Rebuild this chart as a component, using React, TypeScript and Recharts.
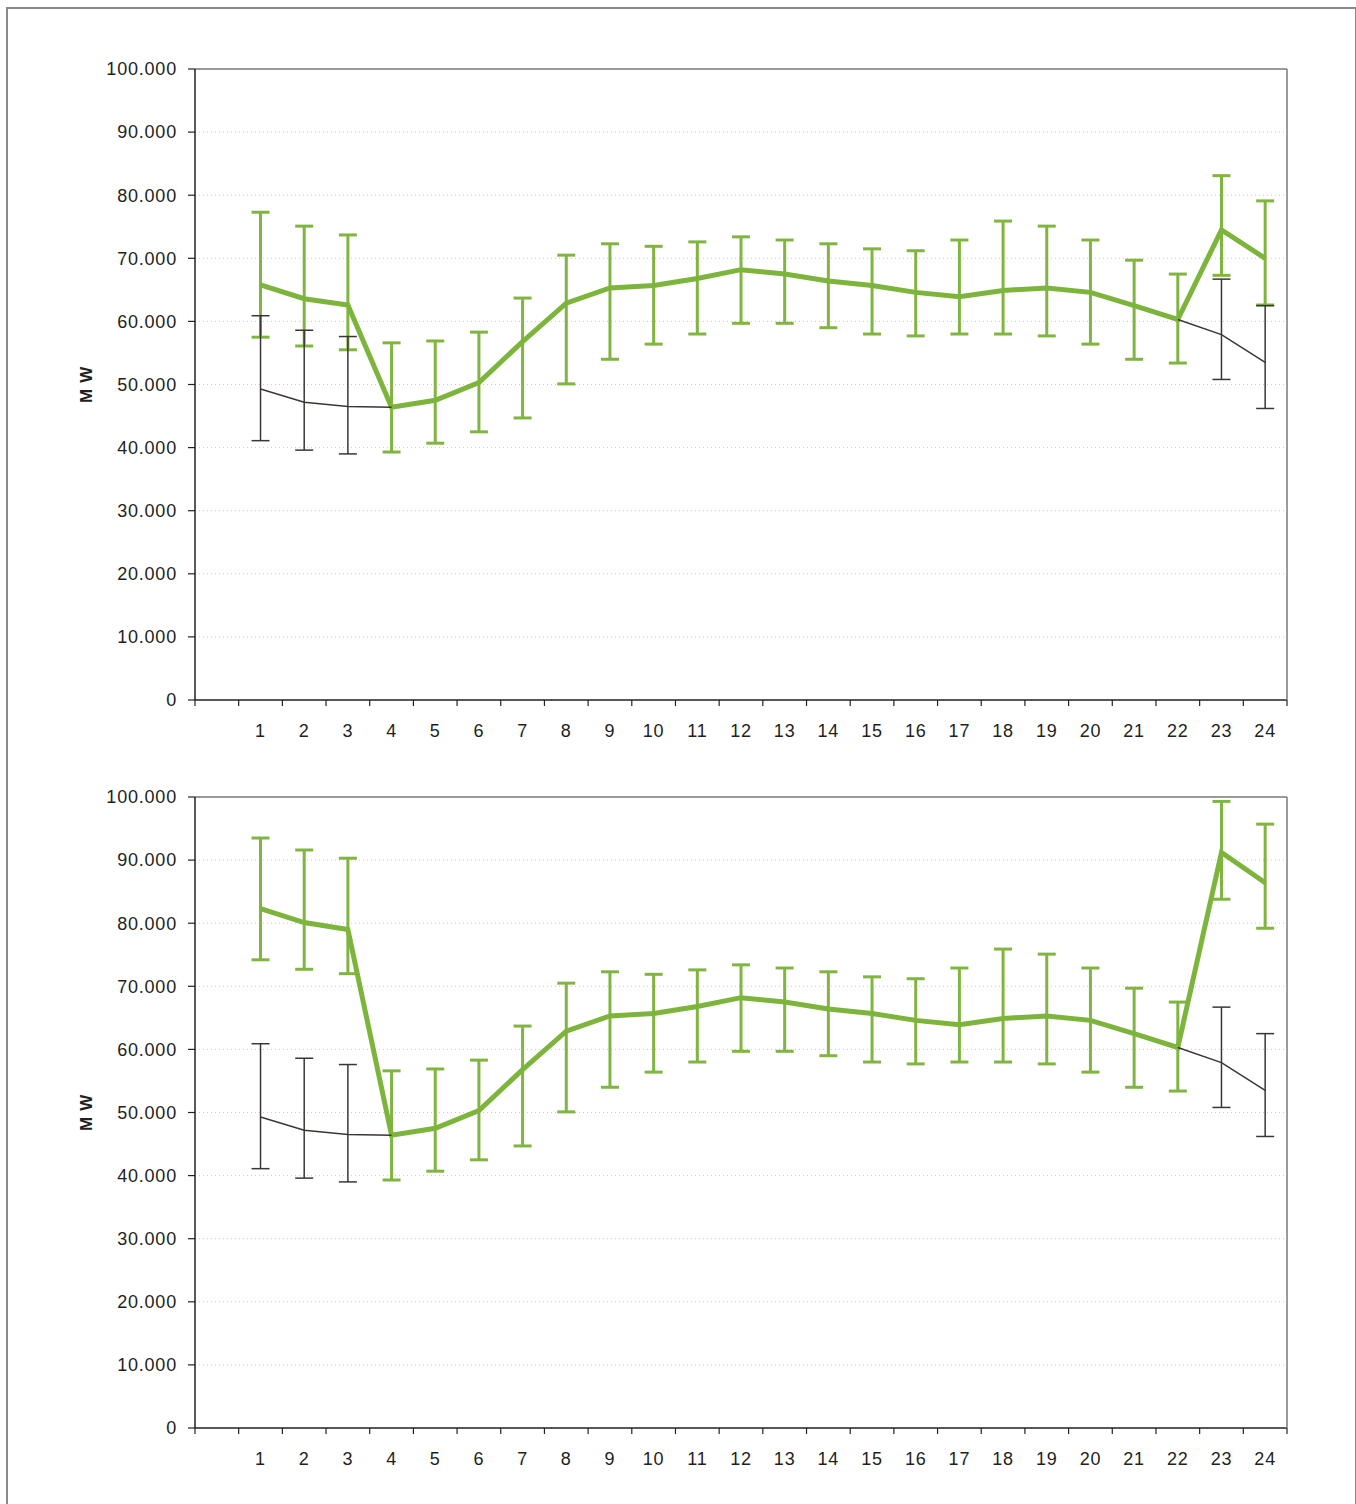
import React from "react";
import {
  LineChart,
  Line,
  XAxis,
  YAxis,
  CartesianGrid,
  ErrorBar,
  ReferenceLine,
} from "recharts";

// ---- DATA ----
const hours: string[] = ["", "1", "2", "3", "4", "5", "6", "7", "8", "9", "10", "11", "12", "13", "14", "15", "16", "17", "18", "19", "20", "21", "22", "23", "24"];

const yTicks: number[] = [0, 10000, 20000, 30000, 40000, 50000, 60000, 70000, 80000, 90000, 100000];

// Top panel – green series
const greenMeanTop: (number | null)[] = [null, 65800, 63600, 62600, 46400, 47500, 50300, 56800, 62900, 65300, 65700, 66800, 68200, 67500, 66400, 65700, 64600, 63900, 64900, 65300, 64600, 62500, 60300, 74500, 70000];
const greenHighTop: (number | null)[] = [null, 77300, 75100, 73700, 56600, 56900, 58300, 63700, 70500, 72300, 71900, 72600, 73400, 72900, 72300, 71500, 71200, 72900, 75900, 75100, 72900, 69700, 67500, 83100, 79100];
const greenLowTop: (number | null)[] = [null, 57500, 56100, 55500, 39300, 40700, 42500, 44700, 50100, 54000, 56400, 58000, 59700, 59700, 59000, 58000, 57700, 58000, 58000, 57700, 56400, 54000, 53400, 67300, 62600];

// Bottom panel – green series
const greenMeanBottom: (number | null)[] = [null, 82300, 80100, 79000, 46400, 47500, 50300, 56800, 62900, 65300, 65700, 66800, 68200, 67500, 66400, 65700, 64600, 63900, 64900, 65300, 64600, 62500, 60300, 91200, 86400];
const greenHighBottom: (number | null)[] = [null, 93500, 91600, 90300, 56600, 56900, 58300, 63700, 70500, 72300, 71900, 72600, 73400, 72900, 72300, 71500, 71200, 72900, 75900, 75100, 72900, 69700, 67500, 99300, 95700];
const greenLowBottom: (number | null)[] = [null, 74200, 72700, 72000, 39300, 40700, 42500, 44700, 50100, 54000, 56400, 58000, 59700, 59700, 59000, 58000, 57700, 58000, 58000, 57700, 56400, 54000, 53400, 83800, 79200];

// Dark reference series (same in both panels; hidden under green in the middle)
const blackMean: (number | null)[] = [null, 49300, 47200, 46500, 46400, null, null, null, null, null, null, null, null, null, null, null, null, null, null, null, null, null, 60300, 57900, 53500];
const blackHigh: (number | null)[] = [null, 60900, 58600, 57600, null, null, null, null, null, null, null, null, null, null, null, null, null, null, null, null, null, null, null, 66700, 62500];
const blackLow: (number | null)[] = [null, 41100, 39600, 39000, null, null, null, null, null, null, null, null, null, null, null, null, null, null, null, null, null, null, null, 50800, 46200];

// ---- LAYOUT ----
const CHART_W = 1356;
const CHART_H = 760;
const PLOT_LEFT = 195;
const PLOT_RIGHT = 1287;
const PLOT_TOP = 69;
const PLOT_H = 631;
const PLOT_W = PLOT_RIGHT - PLOT_LEFT;
const FONT = "'Liberation Sans', Arial, Helvetica, sans-serif";
const GREEN = "#7db43c";
const DARK = "#3b3634";

function err(mean: number | null, low: number | null, high: number | null) {
  if (mean == null || low == null || high == null) return undefined;
  return [mean - low, high - mean];
}

function makeRows(gm: (number | null)[], gl: (number | null)[], gh: (number | null)[]) {
  return hours.map((h, i) => ({
    hour: h,
    g: gm[i],
    gErr: err(gm[i], gl[i], gh[i]),
    b: blackMean[i],
    bErr: err(blackMean[i], blackLow[i], blackHigh[i]),
  }));
}

const XTick = (props: any) => {
  const { x, y, payload, index } = props;
  const bw = PLOT_W / hours.length;
  const left = x - bw / 2;
  return (
    <g>
      <line x1={left} x2={left} y1={y} y2={y + 6} stroke="#222" strokeWidth={1.2} />
      {index === hours.length - 1 && (
        <line x1={x + bw / 2} x2={x + bw / 2} y1={y} y2={y + 6} stroke="#222" strokeWidth={1.2} />
      )}
      <text
        x={x}
        y={y + 31}
        textAnchor="middle"
        dominantBaseline="central"
        fontSize={18}
        letterSpacing={0.8}
        fill="#231f20"
        fontFamily={FONT}
      >
        {payload.value}
      </text>
    </g>
  );
};

const fmtY = (v: number) => (v === 0 ? "0" : `${v / 1000}.000`);

const YLabel = (props: any) => {
  const vb = props.viewBox || { x: 0, y: PLOT_TOP, width: PLOT_LEFT, height: PLOT_H };
  const cx = vb.x + 86.5;
  const cy = vb.y + vb.height / 2;
  return (
    <text
      x={cx}
      y={cy}
      transform={`rotate(-90 ${cx} ${cy})`}
      textAnchor="middle"
      dominantBaseline="central"
      fontSize={17}
      fontWeight="bold"
      letterSpacing={0.6}
      fill="#231f20"
      fontFamily={FONT}
    >
      M W
    </text>
  );
};

function Panel({ top, rows }: { top: number; rows: any[] }) {
  return (
    <div style={{ position: "absolute", left: 0, top, width: CHART_W, height: CHART_H }}>
      <LineChart
        width={CHART_W}
        height={CHART_H}
        data={rows}
        margin={{ top: PLOT_TOP, right: CHART_W - PLOT_RIGHT - 1, bottom: 0, left: 0 }}
      >
        <CartesianGrid vertical={false} stroke="#c8c8c8" strokeDasharray="1 3" yAxisId="left" />
        <XAxis
          dataKey="hour"
          scale="band"
          interval={0}
          tickLine={false}
          tickSize={0}
          tickMargin={0}
          tick={<XTick />}
          axisLine={{ stroke: "#222", strokeWidth: 1.5 }}
          height={CHART_H - PLOT_TOP - PLOT_H}
        />
        <YAxis
          yAxisId="left"
          width={PLOT_LEFT}
          domain={[0, 100000]}
          ticks={yTicks}
          tickFormatter={fmtY}
          interval={0}
          tickSize={7}
          tickMargin={11}
          tickLine={{ stroke: "#222", strokeWidth: 1.2 }}
          axisLine={{ stroke: "#222", strokeWidth: 1.5 }}
          tick={{ fontSize: 18, fill: "#231f20", fontFamily: FONT, letterSpacing: 0.8 }}
          label={<YLabel />}
        />
        <YAxis
          yAxisId="right"
          orientation="right"
          width={1}
          domain={[0, 100000]}
          tick={false}
          tickLine={false}
          axisLine={{ stroke: "#7a7a7a", strokeWidth: 1.5 }}
        />
        <ReferenceLine yAxisId="left" y={100000} stroke="#7a7a7a" strokeWidth={1.5} />
        <Line
          yAxisId="left"
          dataKey="g"
          stroke={GREEN}
          strokeWidth={5}
          dot={false}
          activeDot={false}
          isAnimationActive={false}
          strokeLinejoin="miter"
        >
          <ErrorBar dataKey="gErr" stroke="#80b541" strokeWidth={3} width={9} />
        </Line>
        <Line
          yAxisId="left"
          dataKey="b"
          stroke={DARK}
          strokeWidth={1.5}
          dot={false}
          activeDot={false}
          isAnimationActive={false}
        >
          <ErrorBar dataKey="bErr" stroke={DARK} strokeWidth={1.5} width={9} />
        </Line>
      </LineChart>
    </div>
  );
}

export default function App() {
  const rowsTop = makeRows(greenMeanTop, greenLowTop, greenHighTop);
  const rowsBottom = makeRows(greenMeanBottom, greenLowBottom, greenHighBottom);
  return (
    <div style={{ position: "absolute", left: 0, top: 0, width: 1356, height: 1504, background: "#fff", fontFamily: FONT }}>
      <div
        style={{
          position: "absolute",
          left: 6,
          top: 7,
          width: 1347,
          height: 1497,
          borderLeft: "2px solid #8a8a8a",
          borderTop: "2px solid #8a8a8a",
          borderRight: "2px solid #8a8a8a",
        }}
      />
      <Panel top={0} rows={rowsTop} />
      <Panel top={728} rows={rowsBottom} />
    </div>
  );
}
